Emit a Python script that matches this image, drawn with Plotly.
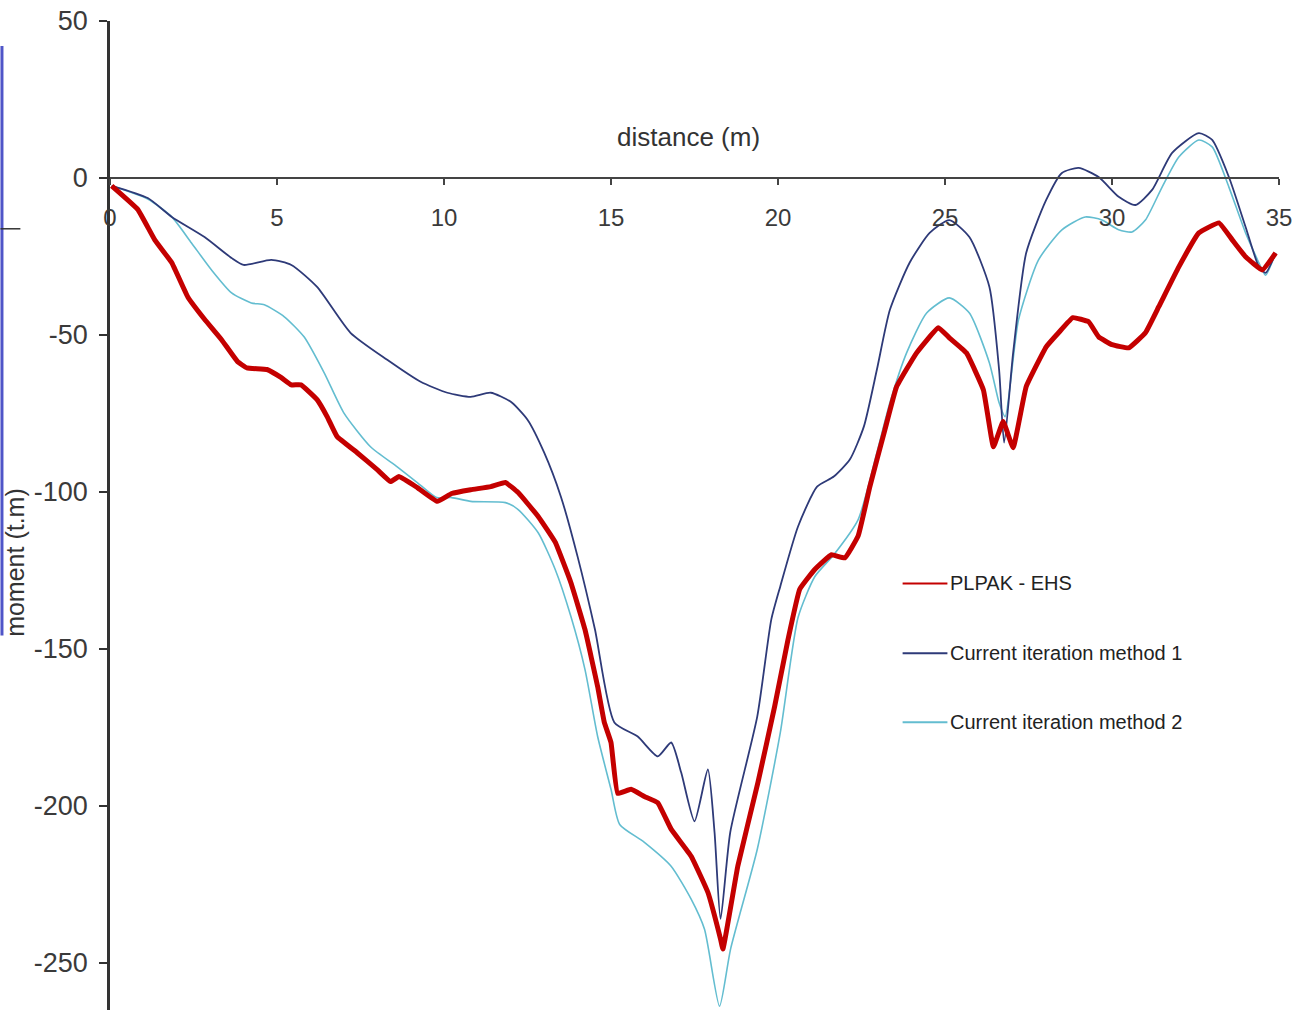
import plotly.graph_objects as go

# ---- data ----
plpak_x = [0.05, 0.83, 1.34, 1.85, 2.33, 2.83, 3.34, 3.82, 4.1, 4.7, 5.13, 5.43, 5.72, 6.2, 6.5, 6.8, 7.4, 8.0, 8.4, 8.65,
           9.2, 9.8, 10.23, 10.8, 11.4, 11.84, 12.22, 12.82, 13.33, 13.8, 14.22, 14.6, 14.8, 15.0, 15.2, 15.6, 16.0, 16.4,
           16.8, 17.4, 17.9, 18.28, 18.35, 18.8, 19.4, 19.9, 20.3, 20.65, 21.1, 21.6, 22.0, 22.4, 22.75, 23.2, 23.55,
           24.15, 24.8, 25.13, 25.64, 26.15, 26.45, 26.74, 27.04, 27.43, 28.03, 28.4, 28.83, 29.3, 29.6, 30.0, 30.5,
           31.0, 31.4, 32.0, 32.6, 33.2, 33.6, 34.0, 34.5, 34.9]
plpak_y = [-2.5, -10, -19.7, -27, -37.9, -45, -51.5, -58.5, -60.5, -61, -63.6, -65.9, -65.9, -70.6, -76, -82.4, -87.5,
           -92.9, -96.7, -95.1, -98.6, -103, -100.5, -99.3, -98.3, -97, -100.2, -107.8, -116, -128.9, -143.8, -162,
           -173.4, -179.8, -196, -194.7, -197, -199, -207.4, -216, -227.5, -242.4, -245.6, -219, -192.5, -168.3, -147,
           -131, -124.7, -120, -121, -114, -98.3, -80.2, -66.5, -55.7, -47.7, -50.9, -55.7, -67.5, -85.6, -77.6, -85.9,
           -66.5, -53.8, -49.3, -44.5, -45.8, -50.6, -53.1, -54.1, -49.3, -41, -28.3, -17.5, -14.3, -19.7, -25.1,
           -29.3, -23.9]

m1_x = [0.05, 1.13, 1.85, 2.83, 3.64, 4.0, 4.83, 5.43, 6.2, 7.2, 8.3, 9.3, 10.1, 10.8, 11.4, 12.0, 12.5, 13.0, 13.5,
        14.0, 14.52, 15.1, 15.8, 16.4, 16.8, 17.1, 17.5, 17.9, 18.1, 18.28, 18.57, 19.38, 19.8, 20.07, 20.6, 21.17,
        21.67, 22.15, 22.57, 22.96, 23.35, 23.94, 24.54, 25.13, 25.73, 26.33, 26.62, 26.77, 27.04, 27.43, 28.03, 28.5,
        29.0, 29.6, 30.2, 30.7, 31.2, 31.8, 32.6, 33.0, 33.5, 34.0, 34.4, 34.6, 34.9]
m1_y = [-2.5, -6.4, -12.4, -18.8, -25.5, -27.7, -26.1, -27.7, -34.7, -49.3, -57.9, -64.9, -68.4, -69.7, -68.4, -71.3,
        -77, -87.5, -101.5, -120.6, -143.8, -173.4, -177.9, -184.2, -179.8, -189.3, -204.9, -188.4, -208.4, -236,
        -208.4, -171.5, -140.6, -130, -111, -98.3, -95.1, -89.7, -79.2, -61.1, -42, -27, -17.5, -13.4, -18.8, -34.7,
        -61.1, -84.3, -55.7, -23.9, -7, 1.6, 3.2, 0.3, -6, -8.6, -3.8, 8, 14.3, 12.1, 0.3, -15.6, -28.3, -30.2, -23.9]

m2_x = [0.05, 1.13, 1.85, 2.44, 3.04, 3.64, 4.23, 4.62, 5.22, 5.81, 6.41, 7.0, 7.8, 8.6, 9.2, 9.78, 10.23, 10.8, 11.84,
        12.22, 12.82, 13.33, 13.8, 14.22, 14.6, 15.0, 15.26, 16.0, 16.8, 17.4, 17.8, 18.25, 18.58, 19.38, 20.07, 20.6,
        21.1, 21.67, 22.4, 22.96, 23.35, 23.85, 24.45, 25.13, 25.73, 26.33, 26.62, 26.8, 27.2, 27.8, 28.5, 29.2, 29.7,
        30.2, 30.6, 31.0, 31.5, 32.0, 32.6, 33.0, 33.5, 34.0, 34.5, 34.6, 34.9]
m2_y = [-2.5, -6.7, -12.4, -20.7, -29.3, -36.6, -39.8, -40.4, -44.2, -50.6, -62, -74.8, -85.6, -92, -97, -101.8, -101.8,
        -103, -103.4, -105.6, -113, -124.7, -139.7, -156.5, -177.9, -194.7, -205.9, -211.6, -219.2, -229.7, -239.3,
        -263.8, -245.6, -213.8, -176.6, -140, -127, -120, -108.8, -87.5, -71.6, -55.7, -43, -38.2, -43, -58.9, -71.6,
        -76, -45.2, -26.1, -16.5, -12.4, -13.4, -16.5, -17.2, -13.4, -2.9, 6.7, 12.1, 9.9, -2.9, -17.5, -29.3, -31,
        -23.9]

series_names = ["PLPAK - EHS", "Current iteration method 1", "Current iteration method 2"]
x_ticks = [0, 5, 10, 15, 20, 25, 30, 35]
y_ticks = [-250, -200, -150, -100, -50, 0, 50]

assert len(plpak_x) == len(plpak_y)
assert len(m1_x) == len(m1_y)
assert len(m2_x) == len(m2_y)

RED = "#C40000"
NAVY = "#2E3A78"
CYAN = "#63BDD0"
FONT = "Liberation Sans, Arial, sans-serif"

fig = go.Figure()
fig.add_trace(go.Scatter(x=m2_x, y=m2_y, mode="lines", name=series_names[2],
                         line=dict(color=CYAN, width=1.6, shape="spline", smoothing=0.6), showlegend=False))
fig.add_trace(go.Scatter(x=m1_x, y=m1_y, mode="lines", name=series_names[1],
                         line=dict(color=NAVY, width=1.8, shape="spline", smoothing=0.6), showlegend=False))
fig.add_trace(go.Scatter(x=plpak_x, y=plpak_y, mode="lines", name=series_names[0],
                         line=dict(color=RED, width=5, shape="spline", smoothing=0.3), showlegend=False))

YMIN, YMAX = -265, 50
zero_pos = (0 - YMIN) / (YMAX - YMIN)

fig.update_layout(
    width=1298, height=1016,
    margin=dict(l=110, r=14, t=20, b=6),
    paper_bgcolor="white", plot_bgcolor="white",
    font=dict(family=FONT, color="#333333"),
    xaxis=dict(range=[0, 35], tickvals=x_ticks, ticktext=[str(v) for v in x_ticks],
               showgrid=False, zeroline=False, showline=True, linecolor="#444444", linewidth=2,
               ticks="outside", ticklen=6, tickwidth=2, tickcolor="#444444",
               anchor="free", position=zero_pos, ticklabelstandoff=12,
               tickfont=dict(size=24, color="#3a3a3a", family=FONT)),
    yaxis=dict(range=[YMIN, YMAX], tickvals=y_ticks, ticktext=[str(v) for v in y_ticks],
               showgrid=False, zeroline=False, showline=True, linecolor="#333333", linewidth=2.5,
               ticks="outside", ticklen=8, tickwidth=2, tickcolor="#333333", ticklabelstandoff=6,
               tickfont=dict(size=27, color="#3a3a3a", family=FONT)),
)

# axis titles
fig.add_annotation(text="distance (m)", xref="paper", yref="paper",
                   x=(691 - 110) / 1174, y=(1010 - 136) / 990, showarrow=False,
                   font=dict(size=26, color="#333333", family=FONT), xanchor="center", yanchor="middle")
fig.add_annotation(text="moment (t.m)", xref="paper", yref="paper",
                   x=(15 - 110) / 1174, y=(1010 - 562) / 990, showarrow=False, textangle=-90,
                   font=dict(size=25, color="#333333", family=FONT), xanchor="center", yanchor="middle")

# manual legend
legend_rows = [(583, RED), (653, NAVY), (722, CYAN)]
for (py, col), name in zip(legend_rows, series_names):
    yp = (1010 - py) / 990
    fig.add_shape(type="line", xref="paper", yref="paper",
                  x0=(906 - 110) / 1174, x1=(951 - 110) / 1174, y0=yp, y1=yp,
                  line=dict(color=col, width=2))
    fig.add_annotation(text=name, xref="paper", yref="paper", x=(952 - 110) / 1174, y=yp,
                       showarrow=False, xanchor="left", yanchor="middle",
                       font=dict(size=20, color="#222222", family=FONT))

# slide artifacts at the left edge
fig.add_shape(type="line", xref="paper", yref="paper",
              x0=(1.5 - 110) / 1174, x1=(1.5 - 110) / 1174,
              y0=(1010 - 45) / 990, y1=(1010 - 635) / 990,
              line=dict(color="#4F55C8", width=3))
fig.add_shape(type="line", xref="paper", yref="paper",
              x0=(0 - 110) / 1174, x1=(20 - 110) / 1174,
              y0=(1010 - 228) / 990, y1=(1010 - 228) / 990,
              line=dict(color="#333333", width=1.5))

fig.write_html("out.html", config={"displayModeBar": False},
               post_script="document.body.style.margin='0';document.body.style.overflow='hidden';")
